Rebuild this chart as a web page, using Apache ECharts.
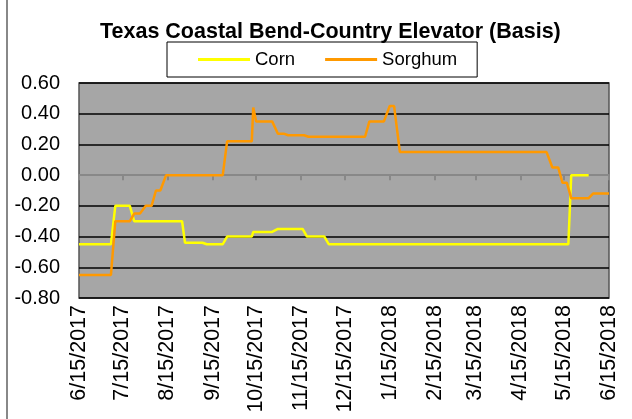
<!DOCTYPE html>
<html>
<head>
<meta charset="utf-8">
<script src="https://cdn.jsdelivr.net/npm/echarts@6/dist/echarts.min.js"></script>
<style>
html,body{margin:0;padding:0;background:#fff;}
#chart{width:632px;height:419px;}
</style>
</head>
<body>
<div id="chart"></div>
<script>
var chartTitle = 'Texas Coastal Bend-Country Elevator (Basis)';
var seriesNames = ['Corn', 'Sorghum'];

var cornDates = ['2017-06-15','2017-07-07','2017-07-10','2017-07-20','2017-07-23','2017-08-25','2017-08-27','2017-09-08','2017-09-11','2017-09-22','2017-09-25','2017-10-12','2017-10-13','2017-10-26','2017-10-30','2017-11-16','2017-11-19','2017-12-01','2017-12-04','2018-05-18','2018-05-20','2018-06-01'];
var cornValues = [-0.45,-0.45,-0.20,-0.20,-0.30,-0.30,-0.44,-0.44,-0.45,-0.45,-0.40,-0.40,-0.37,-0.37,-0.35,-0.35,-0.40,-0.40,-0.45,-0.45,0.00,0.00];

var sorghumDates = ['2017-06-15','2017-07-07','2017-07-10','2017-07-20','2017-07-23','2017-07-27','2017-07-31','2017-08-04','2017-08-07','2017-08-10','2017-08-14','2017-09-22','2017-09-25','2017-10-12','2017-10-13','2017-10-15','2017-10-26','2017-10-30','2017-11-03','2017-11-06','2017-11-17','2017-11-20','2017-12-29','2018-01-01','2018-01-11','2018-01-15','2018-01-18','2018-01-22','2018-05-03','2018-05-07','2018-05-11','2018-05-14','2018-05-17','2018-05-20','2018-06-01','2018-06-04','2018-06-15'];
var sorghumValues = [-0.65,-0.65,-0.30,-0.30,-0.25,-0.25,-0.20,-0.20,-0.10,-0.10,0.00,0.00,0.22,0.22,0.44,0.35,0.35,0.27,0.27,0.26,0.26,0.25,0.25,0.35,0.35,0.45,0.45,0.15,0.15,0.05,0.05,-0.05,-0.05,-0.15,-0.15,-0.12,-0.12];

var tickDates = ['2017-06-15','2017-07-15','2017-08-15','2017-09-15','2017-10-15','2017-11-15','2017-12-15','2018-01-15','2018-02-15','2018-03-15','2018-04-15','2018-05-15','2018-06-15'];

var yMin = -0.8, yMax = 0.6, yStep = 0.2;

function toTs(s){ var p = s.split('-'); return Date.UTC(+p[0], +p[1]-1, +p[2]); }
function pairs(d, v){ return d.map(function(x,i){ return [toTs(x), v[i]]; }); }
function fmtDate(v){ var d = new Date(v); return (d.getUTCMonth()+1) + '/' + d.getUTCDate() + '/' + d.getUTCFullYear(); }

var FONT = "'Liberation Sans', Arial, sans-serif";
var tickTs = tickDates.map(toTs);
var xMin = tickTs[0], xMax = tickTs[tickTs.length-1];

var chart = echarts.init(document.getElementById('chart'), null, {renderer:'canvas'});
chart.setOption({
  animation: false,
  backgroundColor: '#fff',
  title: {
    text: chartTitle, left: 95, top: 16,
    textStyle: {fontFamily: FONT, fontSize: 21.5, fontWeight: 'bold', color: '#000'}
  },
  legend: {
    left: 167, top: 42,
    padding: [8, 20, 8, 31],
    itemGap: 30,
    itemWidth: 52, itemHeight: 3, icon: 'rect',
    borderColor: '#000', borderWidth: 1,
    backgroundColor: '#fff',
    textStyle: {fontFamily: FONT, fontSize: 18.5, color: '#000'},
    data: seriesNames
  },
  graphic: [{
    type: 'line', shape: {x1: 7, y1: 0, x2: 7, y2: 419},
    style: {stroke: '#888', lineWidth: 2}, silent: true
  }],
  grid: {
    left: 79, right: 23, top: 83, bottom: 121,
    show: true, backgroundColor: '#A6A6A6', borderColor: '#555', borderWidth: 1.5
  },
  xAxis: [{
    type: 'value', min: xMin, max: xMax, scale: true,
    axisLine: {show: true, onZero: true, lineStyle: {color: '#888', width: 2}},
    axisTick: {show: true, customValues: tickTs, length: 5, lineStyle: {color: '#888', width: 2}},
    axisLabel: {show: false},
    splitLine: {show: false}
  }, {
    type: 'value', min: xMin, max: xMax, scale: true, position: 'bottom',
    axisLine: {show: false, onZero: false},
    axisTick: {show: false},
    axisLabel: {
      show: true, customValues: tickTs, rotate: 90, margin: 7,
      formatter: fmtDate, hideOverlap: false,
      fontFamily: FONT, fontSize: 21.5, color: '#000'
    },
    splitLine: {show: false}
  }],
  yAxis: {
    type: 'value', min: yMin, max: yMax, interval: yStep,
    axisLine: {show: false}, axisTick: {show: false},
    axisLabel: {
      margin: 19, fontFamily: FONT, fontSize: 20, color: '#000',
      formatter: function(v){ return v.toFixed(2); }
    },
    splitLine: {show: true, lineStyle: {color: ['#000','#000','#000','#000','rgba(0,0,0,0)','#000','#000','#000'], width: 1.5}}
  },
  series: [{
    name: seriesNames[0], type: 'line', xAxisIndex: 0,
    data: pairs(cornDates, cornValues),
    symbol: 'none', lineStyle: {color: '#FFFF00', width: 2.5}, itemStyle: {color: '#FFFF00'}, z: 3
  }, {
    name: seriesNames[1], type: 'line', xAxisIndex: 0,
    data: pairs(sorghumDates, sorghumValues),
    symbol: 'none', lineStyle: {color: '#FF9900', width: 2.5}, itemStyle: {color: '#FF9900'}, z: 4
  }]
});
</script>
</body>
</html>
